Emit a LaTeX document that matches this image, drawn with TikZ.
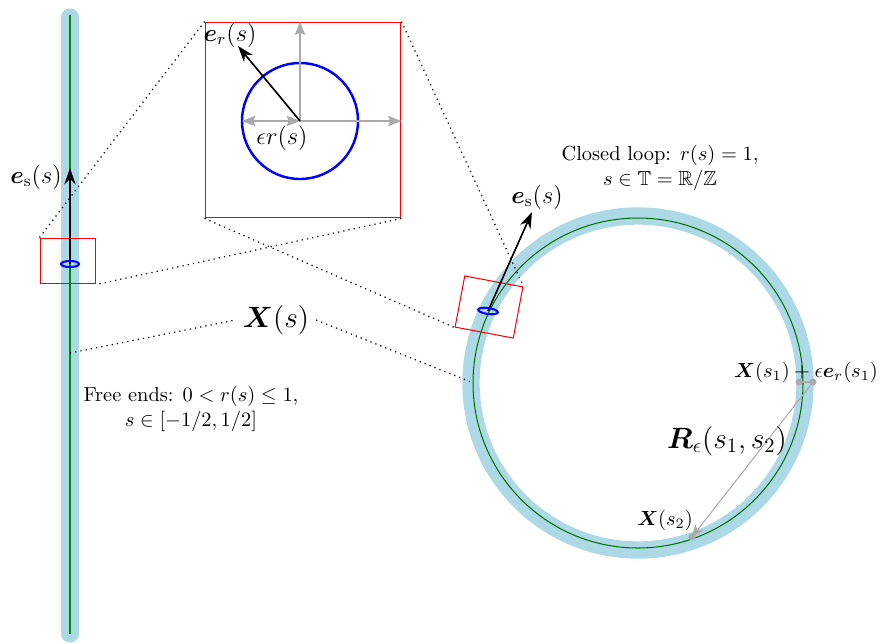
\documentclass[tikz,border=0pt]{standalone}
\usepackage{amsmath, amssymb, bm}
\usepackage{tikz}
\usetikzlibrary{arrows.meta, positioning, calc}

\definecolor{tubeblue}{RGB}{173,216,230}
\definecolor{axisgray}{RGB}{170,170,170}
\definecolor{midline}{RGB}{0,110,0}

\begin{document}
\begin{tikzpicture}[x=0.49pt, y=-0.49pt,
  tube/.style={tubeblue, line width=8.5pt},
  zoombox/.style={draw=red, line width=0.5pt, inner sep=0pt},
  zoomline/.style={dotted, line width=0.6pt},
  vec/.style={line width=0.8pt, -{Stealth[length=8pt, width=5.5pt]}},
  axisarrow/.style={axisgray, line width=1pt, -{Stealth[length=6.5pt, width=5pt, inset=1pt]}}]
  \useasboundingbox (0,0) rectangle (881,643);

  % free-end rod
  \draw[tube, line cap=round] (70,17) -- (70,634);
  \draw[green!55!black, line width=1.1pt] (70,15) -- (70,634);
  % closed loop
  \coordinate (ringc) at (638,383);
  \draw[tube] (ringc) circle (167);
  \draw[midline, line width=0.5pt] (ringc) circle (165);

  % cross-section boxes
  \coordinate (rodpt) at (70,264);
  \coordinate (ringpt) at (488,311);
  \node[zoombox, minimum width=27.4pt, minimum height=22.5pt] (rodbox) at (68,261) {};
  \node[zoombox, rotate=-10.7, minimum width=29pt, minimum height=25.5pt] (ringbox) at (489,307) {};
  \node[zoombox, minimum size=96pt] (inset) at (303,120) {};

  % inset: cross section
  \coordinate (sec) at (300,121);
  \coordinate (secleft) at (242,121);
  \coordinate (ertip) at (238,46);
  \draw[blue, line width=1.2pt] (sec) circle (58);
  \draw[axisarrow] (sec) -- (inset.east |- sec);
  \draw[axisarrow] (sec) -- (sec |- inset.north);
  \draw[axisarrow, {Stealth[length=6.5pt, width=5pt, inset=1pt]}-{Stealth[length=6.5pt, width=5pt, inset=1pt]}] (secleft) -- (sec);
  \draw[vec] (sec) -- (ertip);
  \node[font=\large] (erlabel) at (230,35) {$\bm{e}_r(s)$};
  \node[font=\large] (radlabel) at (282,138) {$\epsilon r(s)$};

  % zoom lines
  \draw[zoomline] (inset.north west) -- (rodbox.north west);
  \draw[zoomline] (inset.south east) -- (rodbox.south east);
  \draw[zoomline] (inset.south west) -- (ringbox.south west);
  \draw[zoomline] (inset.north east) -- (ringbox.north east);

  % tangent vectors
  \coordinate (rodtip) at (70,168);
  \coordinate (ringtip) at (532,212);
  \draw[vec] (rodpt) -- (rodtip);
  \draw[vec] (ringpt) -- (ringtip);
  \draw[blue, line width=1pt] (rodpt) ellipse [x radius=9, y radius=3];
  \draw[blue, line width=1pt, rotate around={-8:(ringpt)}] (ringpt) ellipse [x radius=10, y radius=3];
  \node[font=\large] (rodes) at (36,177) {$\bm{e}_\mathrm{s}(s)$};
  \node[font=\large] (ringes) at (537,197) {$\bm{e}_\mathrm{s}(s)$};

  % centreline label
  \coordinate (rodX) at (70,353);
  \coordinate (ringX) at (471,382);
  \node[font=\Large] (xlabel) at (276,320) {$\bm{X}(s)$};
  \draw[zoomline] (rodX) -- (xlabel.west);
  \draw[zoomline] (xlabel.east) -- (ringX);

  % the two cases
  \node[align=center] (looptext) at (660,168) {Closed loop: $r(s)=1$,\\ $s\in\mathbb{T}=\mathbb{R}/\mathbb{Z}$};
  \node[align=center] (freetext) at (191,409) {Free ends: $0<r(s)\le 1$,\\ $s\in[-1/2,1/2]$};

  % distance between two points
  \coordinate (xs1) at (799,382);
  \coordinate (xs1e) at (813,382);
  \coordinate (xs2) at (692,537);
  \draw[axisgray, line width=1pt] (xs1) -- (xs1e);
  \draw[axisgray, line width=0.5pt, -{Stealth[length=6pt, width=5pt]}] (xs1e) -- (xs2);
  \fill[axisgray] (xs1) circle (3.5) (xs1e) circle (3.5) (xs2) circle (3.5);
  \node (xs1label) at (806,372) {$\bm{X}(s_1)+\epsilon\bm{e}_r(s_1)$};
  \node[font=\Large] (rlabel) at (727,441) {$\bm{R}_\epsilon(s_1,s_2)$};
  \node (xs2label) at (665,520) {$\bm{X}(s_2)$};
\end{tikzpicture}
\end{document}
